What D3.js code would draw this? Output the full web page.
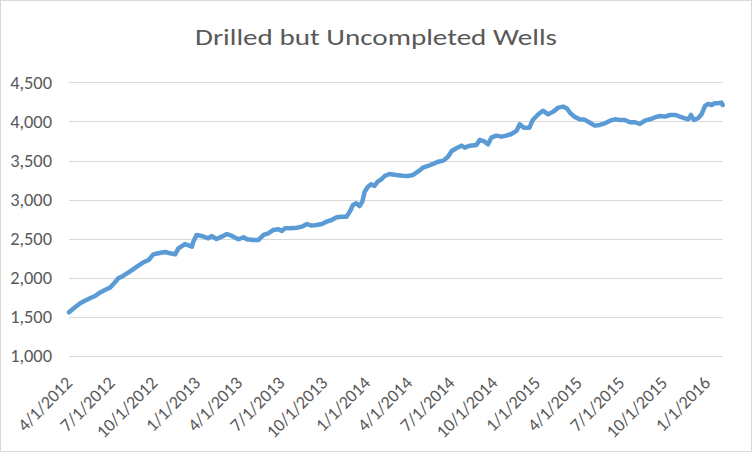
<!DOCTYPE html>
<html>
<head>
<meta charset="utf-8">
<script src="https://cdn.jsdelivr.net/npm/d3@7"></script>
<style>
  html, body { margin: 0; padding: 0; background: #fff; }
  svg { display: block; }
  text { font-family: Carlito, Calibri, "Liberation Sans", Arial, sans-serif; fill: #595959; }
</style>
</head>
<body>
<svg id="chart" width="752" height="452"></svg>
<script>
const chartTitle = "Drilled but Uncompleted Wells";

const dates = [
  "2012-04-01","2012-04-14","2012-04-25","2012-05-05","2012-05-16","2012-05-27","2012-06-06","2012-06-17","2012-06-28",
  "2012-07-07","2012-07-16","2012-07-27","2012-08-07","2012-08-18","2012-08-28","2012-09-08","2012-09-19","2012-09-29",
  "2012-10-10","2012-10-25","2012-11-04","2012-11-15","2012-11-22","2012-12-06","2012-12-21","2012-12-24","2012-12-31",
  "2013-01-11","2013-01-25","2013-02-01","2013-02-12","2013-02-23","2013-03-06","2013-03-17","2013-03-31","2013-04-11",
  "2013-04-18","2013-05-02","2013-05-13","2013-05-24","2013-06-03","2013-06-14","2013-06-25","2013-07-02","2013-07-09",
  "2013-07-20","2013-08-03","2013-08-14","2013-08-25","2013-09-04","2013-09-15","2013-09-26","2013-10-06","2013-10-17",
  "2013-10-28","2013-11-07","2013-11-18","2013-11-25","2013-12-02","2013-12-09","2013-12-16","2013-12-22","2013-12-27",
  "2014-01-03","2014-01-10","2014-01-17","2014-01-24","2014-02-01","2014-02-08","2014-02-18","2014-03-05","2014-03-19",
  "2014-03-30","2014-04-10","2014-04-21","2014-05-01","2014-05-12","2014-05-23","2014-06-03","2014-06-14","2014-06-24",
  "2014-07-02","2014-07-12","2014-07-23","2014-07-30","2014-08-10","2014-08-24","2014-08-31","2014-09-11","2014-09-18",
  "2014-09-25","2014-10-06","2014-10-17","2014-10-27","2014-11-07","2014-11-18","2014-11-25","2014-12-04","2014-12-16",
  "2014-12-23","2015-01-04","2015-01-14","2015-01-25","2015-02-05","2015-02-16","2015-02-26","2015-03-06","2015-03-13",
  "2015-03-23","2015-04-03","2015-04-14","2015-04-25","2015-05-05","2015-05-16","2015-05-27","2015-06-07","2015-06-17",
  "2015-06-28","2015-07-09","2015-07-20","2015-07-31","2015-08-10","2015-08-21","2015-09-01","2015-09-12","2015-09-23",
  "2015-10-03","2015-10-14","2015-10-25","2015-11-04","2015-11-15","2015-11-22","2015-11-28","2015-12-04","2015-12-13",
  "2015-12-21","2015-12-28","2016-01-04","2016-01-11","2016-01-18","2016-01-25","2016-02-01","2016-02-04"
];

const wells = [
  1560,1623,1674,1707,1738,1767,1810,1844,1874,
  1930,1994,2027,2070,2113,2155,2198,2228,2300,
  2313,2330,2313,2300,2377,2432,2398,2462,2548,
  2535,2505,2535,2496,2526,2560,2535,2493,2518,
  2493,2484,2484,2548,2569,2612,2620,2599,2633,
  2633,2641,2654,2688,2667,2676,2688,2718,2739,
  2774,2782,2782,2846,2931,2953,2918,2974,3101,
  3165,3196,3174,3229,3260,3302,3328,3315,3306,
  3302,3315,3360,3408,3430,3456,3485,3498,3549,
  3622,3657,3690,3664,3690,3699,3763,3741,3707,
  3792,3818,3805,3818,3839,3878,3963,3920,3920,
  4018,4091,4137,4091,4125,4176,4189,4168,4110,
  4058,4027,4020,3982,3946,3955,3976,4009,4027,
  4018,4018,3989,3989,3967,4009,4027,4053,4070,
  4061,4082,4082,4061,4040,4027,4082,4018,4040,
  4095,4197,4223,4210,4232,4232,4240,4210
];

const xTickLabels = ["4/1/2012","7/1/2012","10/1/2012","1/1/2013","4/1/2013","7/1/2013","10/1/2013","1/1/2014",
  "4/1/2014","7/1/2014","10/1/2014","1/1/2015","4/1/2015","7/1/2015","10/1/2015","1/1/2016"];
const yTicks = [1000,1500,2000,2500,3000,3500,4000,4500];

const parse = d3.timeParse("%Y-%m-%d");
const parseTick = d3.timeParse("%m/%d/%Y");
const series = dates.map((d, i) => ({ date: parse(d), value: wells[i] }));

const svg = d3.select("#chart");
const W = 752, H = 452;
const plotL = 69, plotR = 722.7, plotT = 82.3, plotB = 356;
const fontFam = 'Carlito, Calibri, "Liberation Sans", Arial, sans-serif';

svg.append("rect").attr("x", 0.5).attr("y", 0.5).attr("width", W - 1).attr("height", H - 1)
  .attr("fill", "#fff").attr("stroke", "#D9D9D9");

const x = d3.scaleTime()
  .domain([parse(dates[0]), parse(dates[dates.length - 1])])
  .range([plotL, plotR]);
const y = d3.scaleLinear().domain([1000, 4500]).range([plotB, plotT]);

// gridlines
svg.append("g").selectAll("line").data(yTicks).join("line")
  .attr("x1", plotL).attr("x2", plotR)
  .attr("y1", d => Math.round(y(d)) + 0.5).attr("y2", d => Math.round(y(d)) + 0.5)
  .attr("stroke", "#D9D9D9").attr("stroke-width", 1);

// y axis labels
const yAxis = d3.axisLeft(y).tickValues(yTicks).tickFormat(d3.format(",")).tickSize(0).tickPadding(0);
const yg = svg.append("g").attr("transform", `translate(52,0)`).call(yAxis);
yg.select(".domain").remove();
yg.selectAll("text").attr("font-size", 18.4).attr("fill", "#595959").style("font-family", fontFam);

// x axis labels
const xAxis = d3.axisBottom(x).tickValues(xTickLabels.map(parseTick))
  .tickFormat((d, i) => xTickLabels[i]).tickSize(0).tickPadding(0);
const xg = svg.append("g").attr("transform", `translate(0,${plotB})`).call(xAxis);
xg.select(".domain").remove();
xg.selectAll("text")
  .attr("font-size", 18).attr("fill", "#595959").style("font-family", fontFam)
  .attr("text-anchor", "end")
  .attr("dy", 0)
  .attr("y", 0)
  .attr("transform", "translate(4,28) rotate(-45)");

// line
const line = d3.line().x(d => x(d.date)).y(d => y(d.value)).curve(d3.curveLinear);
svg.append("path").datum(series)
  .attr("d", line)
  .attr("fill", "none")
  .attr("stroke", "#5B9BD5")
  .attr("stroke-width", 4.5)
  .attr("stroke-linejoin", "round")
  .attr("stroke-linecap", "round");

// title
svg.append("text")
  .attr("x", 376).attr("y", 45)
  .attr("text-anchor", "middle")
  .attr("font-size", 23.3)
  .attr("fill", "#595959")
  .style("font-family", fontFam)
  .attr("textLength", 362)
  .attr("lengthAdjust", "spacingAndGlyphs")
  .text(chartTitle);
</script>
</body>
</html>
